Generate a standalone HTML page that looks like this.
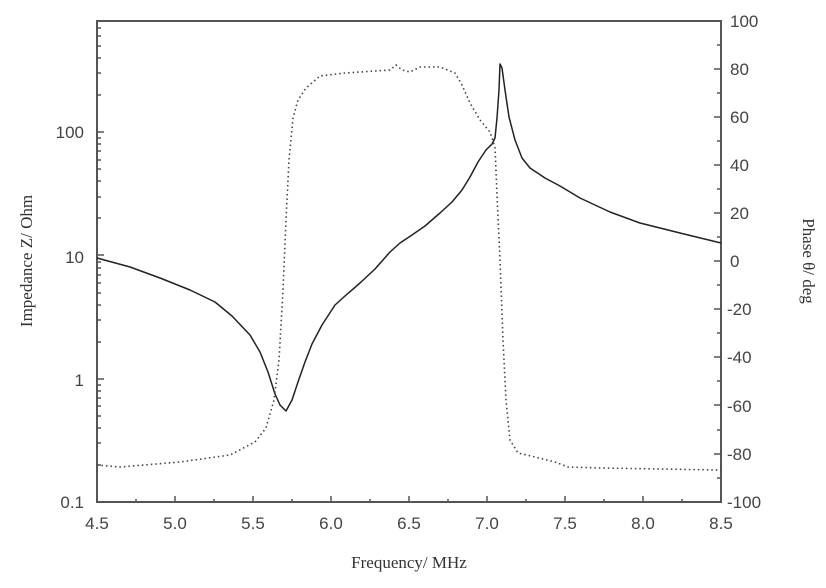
<!DOCTYPE html><html><head><style>body{margin:0;background:#fff}svg{display:block}</style></head><body>
<svg width="826" height="588" xmlns="http://www.w3.org/2000/svg">
<g font-family="Liberation Sans, sans-serif" font-size="17" fill="#444">
<g text-anchor="end">
<text x="84" y="138">100</text><text x="84" y="263">10</text><text x="84" y="386">1</text><text x="84" y="508">0.1</text>
</g>
<g text-anchor="start">
<text x="730" y="27">100</text><text x="730" y="75">80</text><text x="730" y="123">60</text><text x="730" y="171">40</text><text x="730" y="219">20</text><text x="730" y="267">0</text>
<text x="727" y="315">-20</text><text x="727" y="363">-40</text><text x="727" y="412">-60</text><text x="727" y="460">-80</text><text x="727" y="508">-100</text>
</g>
<g text-anchor="middle">
<text x="97" y="529">4.5</text><text x="175" y="529">5.0</text><text x="253" y="529">5.5</text><text x="331" y="529">6.0</text><text x="409" y="529">6.5</text><text x="487" y="529">7.0</text><text x="565" y="529">7.5</text><text x="643" y="529">8.0</text><text x="721" y="529">8.5</text>
</g>
</g>
<g font-family="Liberation Serif, serif" font-size="17" fill="#333" text-anchor="middle">
<text x="409" y="568">Frequency/ MHz</text>
<text transform="translate(32,261) rotate(-90)">Impedance Z/ Ohm</text>
<text transform="translate(803,261) rotate(90)">Phase θ/ deg</text>
</g>
<rect x="97" y="21" width="624" height="481" fill="none" stroke="#555" stroke-width="2"/>
<g stroke="#555" stroke-width="1.5">
<path d="M97 132h7M97 255h7M97 379h7M97 502h7"/>
<path d="M97 465h4M97 443h4M97 428h4M97 416h4M97 406h4M97 398h4M97 391h4M97 385h4M97 342h4M97 320h4M97 305h4M97 293h4M97 283h4M97 275h4M97 268h4M97 262h4M97 218h4M97 197h4M97 181h4M97 169h4M97 160h4M97 151h4M97 144h4M97 138h4M97 95h4M97 73h4M97 58h4M97 46h4M97 36h4M97 28h4"/>
<path d="M721 69h-7M721 117h-7M721 165h-7M721 213h-7M721 261h-7M721 309h-7M721 357h-7M721 405h-7M721 454h-7M721 45h-4M721 93h-4M721 141h-4M721 189h-4M721 237h-4M721 285h-4M721 333h-4M721 381h-4M721 430h-4M721 478h-4"/>
<path d="M175 502v-6M253 502v-6M331 502v-6M409 502v-6M487 502v-6M565 502v-6M643 502v-6M136 502v-3M214 502v-3M292 502v-3M370 502v-3M448 502v-3M526 502v-3M604 502v-3M682 502v-3"/>
</g>
<path fill="none" stroke="#222" stroke-width="1.5" stroke-linejoin="round" d="M97 258L130 267L160 278L190 290L215 302L232 316L250 335L260 352L268 372L275 394L280 405L286 411L292 400L298 382L305 362L312 344L322 325L335 305L345 296L360 283L375 269L390 252L400 243L412 235L425 226L440 213L452 202L462 190L470 177L478 162L486 150L492 144L495 138L497 118L499 90L500 64L502 68L505 90L509 117L515 140L522 158L530 168L545 178L560 186L580 198L610 212L640 223L680 233L721 243"/>
<path fill="none" stroke="#444" stroke-width="1.6" stroke-dasharray="1.5 3" d="M97 465L120 467L180 462L230 455L255 442L266 428L274 400L279 360L283 290L286 220L289 160L293 118L298 100L306 88L320 76L345 73L375 71L390 70L396 65L402 70L410 72L420 67L440 67L455 73L462 85L470 103L480 120L490 132L495 147L497 195L500 260L503 340L506 400L510 440L518 453L535 457L555 462L568 467L600 468L721 470"/>
</svg>
</body></html>
